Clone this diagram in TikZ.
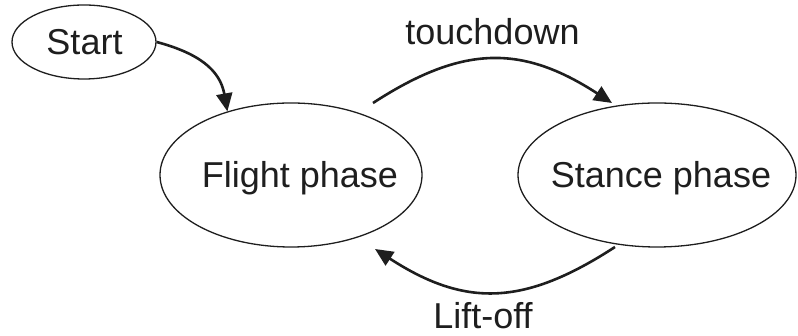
\documentclass[tikz,border=0pt]{standalone}
\usepackage{fontspec}
\setmainfont{Liberation Sans}
\usetikzlibrary{shapes.geometric,arrows.meta}
\definecolor{ink}{HTML}{1E1E1E}
% text of a state, set in a zero-size box so that the ellipse keeps its given size
\newcommand\statetext[2]{\makebox[0pt]{\hspace*{#1}\smash{\raisebox{-12.5pt}{#2}}}}
\tikzset{
  state/.style={ellipse, draw=ink, line width=1.3pt, inner sep=0pt,
                font=\fontsize{36}{40}\selectfont, text=ink},
  trans/.style={draw=ink, line width=2.6pt,
                -{Triangle[length=18pt,width=16pt]}},
  edgelabel/.style={font=\fontsize{36}{40}\selectfont, text=ink, anchor=base}
}
\begin{document}
\begin{tikzpicture}[x=1pt,y=1pt]
  \useasboundingbox (0,0) rectangle (798,336);
  % states
  \node[state, minimum width=144pt, minimum height=74pt] (start) at (84,294) {\statetext{1pt}{Start}};
  \node[state, minimum width=262pt, minimum height=144pt] (flight) at (291,161) {\statetext{18pt}{Flight phase}};
  \node[state, minimum width=278pt, minimum height=144pt] (stance) at (657,161) {\statetext{8pt}{Stance phase}};
  % free ends of the transitions
  \coordinate (tdA) at ([shift={(82,72)}]flight.center);
  \coordinate (tdB) at ([shift={(-45,72)}]stance.center);
  \coordinate (loA) at ([shift={(-42,-72)}]stance.center);
  \coordinate (loB) at ([shift={(84,-74)}]flight.center);
  % transitions
  \draw[trans] (start.east) to[out=-15,in=100,looseness=1.1] (flight.135);
  \draw[trans] (tdA) to[out=33,in=147,looseness=1.15]
     node[edgelabel, pos=0.5, yshift=15pt] {touchdown} (tdB);
  \draw[trans] (loA) to[out=-147,in=-33,looseness=1.15]
     node[edgelabel, pos=0.5, xshift=-12pt, yshift=-36pt] {Lift-off} (loB);
\end{tikzpicture}
\end{document}
